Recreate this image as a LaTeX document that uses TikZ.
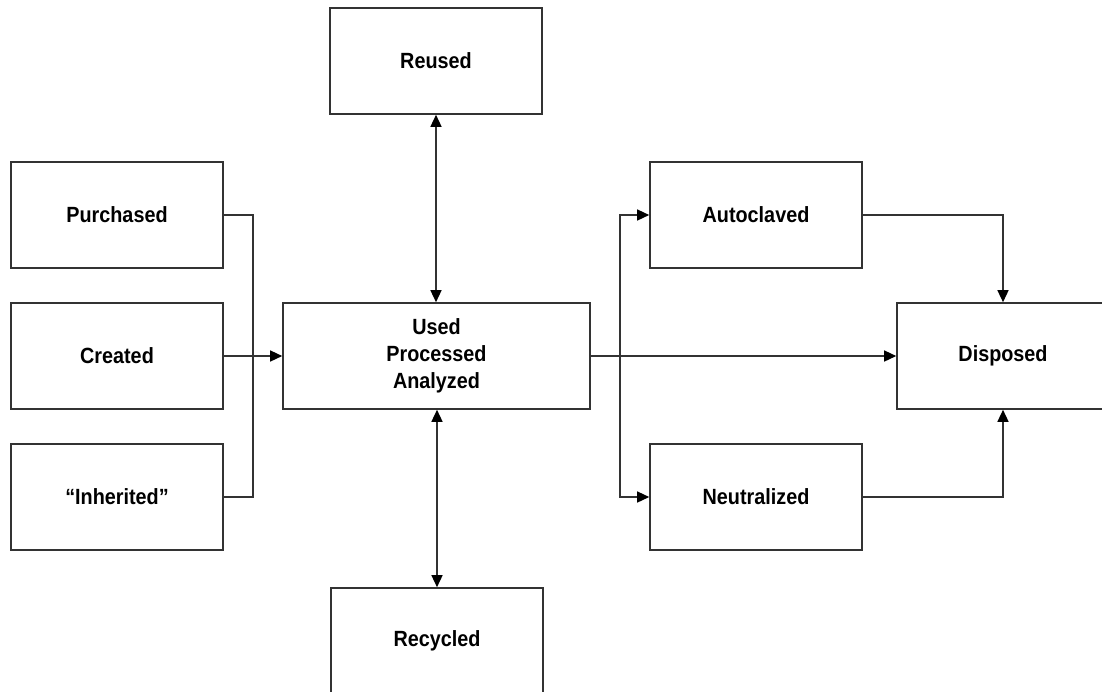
\documentclass[tikz,border=0pt]{standalone}
\usepackage{fontspec}
\setmainfont{Liberation Sans}[FakeStretch=0.9]
\usetikzlibrary{arrows.meta}
\begin{document}
\begin{tikzpicture}[x=1pt,y=-1pt,
  box/.style={draw=black!80,line width=1.6pt,rectangle,minimum width=212pt,minimum height=106pt,
    font=\fontsize{22pt}{27pt}\selectfont\bfseries,align=center,inner sep=0pt},
  conn/.style={draw=black!80,line width=1.4pt},
  tip/.tip={Triangle[length=12pt,width=11pt,fill=black,color=black]},
  arr/.style={conn,-tip},
  darr/.style={conn,tip-tip}]
\useasboundingbox (0,0) rectangle (1102,691);
\clip (0,0) rectangle (1102,691);
\node[box] (purch) at (117,215) {Purchased};
\node[box] (created) at (117,356) {Created};
\node[box] (inh) at (117,497) {“Inherited”};
\node[box,minimum width=307pt] (main) at (436.5,356) {Used\\Processed\\Analyzed};
\node[box] (reused) at (436,61) {Reused};
\node[box] (recyc) at (437,641) {Recycled};
\node[box] (auto) at (756,215) {Autoclaved};
\node[box] (neut) at (756,497) {Neutralized};
\node[box] (disp) at (1003,356) {Disposed};
\coordinate (jl) at (253,356);
\coordinate (jr) at (620,356);
\draw[conn] (purch.east) -| (jl) |- (inh.east);
\draw[arr] (created.east) -- (main.west);
\draw[darr] (main.north -| reused.south) -- (reused.south);
\draw[darr] (main.south -| recyc.north) -- (recyc.north);
\draw[arr] (main.east) -- (disp.west);
\draw[arr] (jr) |- (auto.west);
\draw[arr] (jr) |- (neut.west);
\draw[arr] (auto.east) -| (disp.north);
\draw[arr] (neut.east) -| (disp.south);
\end{tikzpicture}
\end{document}
